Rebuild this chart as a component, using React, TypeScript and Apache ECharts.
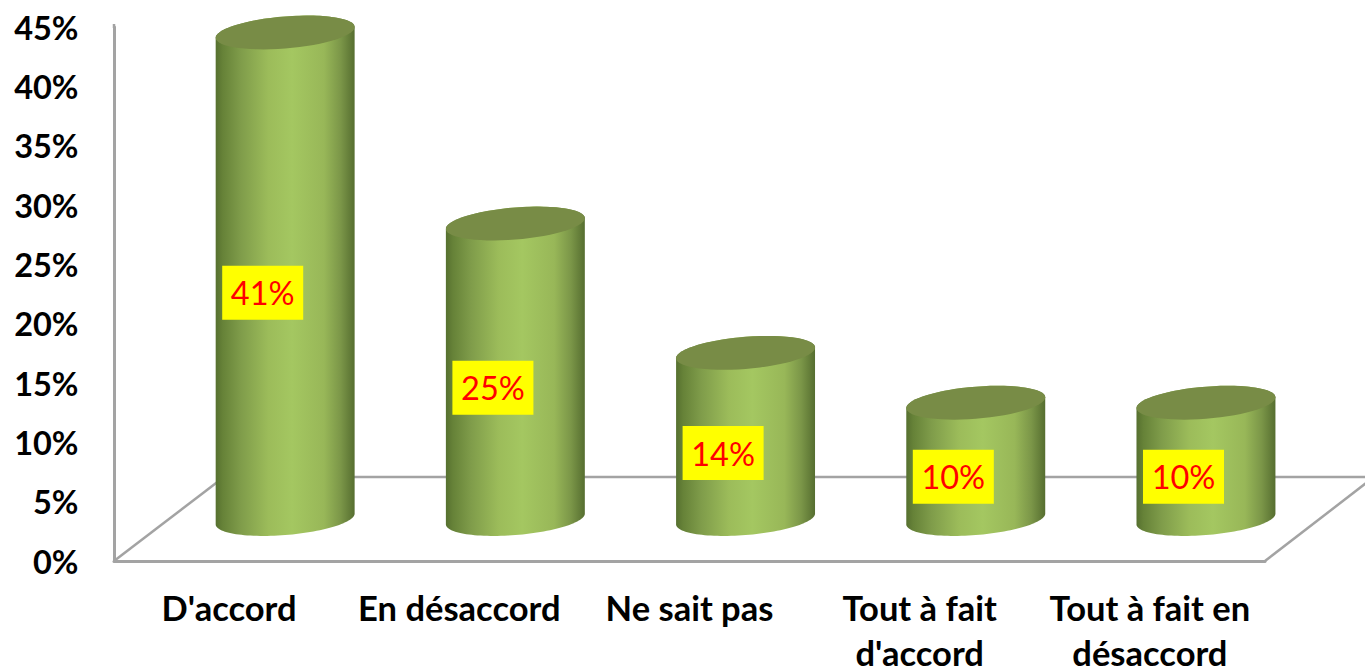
import React, { useEffect, useRef } from "react";
import * as echarts from "echarts";

const categories = ["D'accord", "En désaccord", "Ne sait pas", "Tout à fait\nd'accord", "Tout à fait en\ndésaccord"];
const barValues = [41, 24.9, 14, 9.8, 9.8];
const labelValues = [41, 25, 14, 10, 10];
const yTicks = { min: 0, max: 45, interval: 5 };

const W = 1365;
const H = 669;
const AXIS = "#a3a3a3";
const FONT = "Lato";

const RX = 69.7;
const RY = 16;
const TILT = (-4.7 * Math.PI) / 180;
const T0 = Math.atan(-(RY / RX) * Math.tan(TILT));

function arcPoints(cx: number, cy: number, from: number, to: number) {
  const n = 60;
  const pts: string[] = [];
  for (let k = 0; k <= n; k++) {
    const t = from + ((to - from) * k) / n;
    const x = cx + RX * Math.cos(t) * Math.cos(TILT) - RY * Math.sin(t) * Math.sin(TILT);
    const y = cy + RX * Math.cos(t) * Math.sin(TILT) + RY * Math.sin(t) * Math.cos(TILT);
    pts.push(`${x.toFixed(2)} ${y.toFixed(2)}`);
  }
  return pts;
}

function renderCylinder(_p: any, api: any) {
  const i = api.value(0);
  const v = api.value(1);
  const band = api.size([1, 0])[0];
  const unit = api.size([0, 1])[1];
  const depthLift = 3.54 * unit;
  const cx = api.coord([i, 0])[0] + 0.2435 * band;
  const baseY = api.coord([0, 0])[1] - depthLift;
  const topY = baseY - v * unit;
  const bottomArc = arcPoints(cx, baseY, T0 + Math.PI, T0);
  const topBack = arcPoints(cx, topY, T0, T0 - Math.PI);
  const body = "M " + [...bottomArc, ...topBack].join(" L ") + " Z";
  const top = "M " + arcPoints(cx, topY, T0, T0 + 2 * Math.PI).join(" L ") + " Z";
  return {
    type: "group",
    children: [
      {
        type: "path",
        shape: { pathData: body },
        style: {
          fill: new echarts.graphic.LinearGradient(0, 0, 1, 0, [
            { offset: 0, color: "#56702f" },
            { offset: 0.05, color: "#668238" },
            { offset: 0.18, color: "#7f9c4a" },
            { offset: 0.38, color: "#9cbc5a" },
            { offset: 0.55, color: "#a4c761" },
            { offset: 0.78, color: "#98b758" },
            { offset: 0.9, color: "#7b9648" },
            { offset: 1, color: "#566e30" },
          ]),
        },
      },
      {
        type: "path",
        shape: { pathData: top },
        style: { fill: "#788c46" },
      },
    ],
  };
}

function renderLabel(_p: any, api: any) {
  const i = api.value(0);
  const v = api.value(1);
  const band = api.size([1, 0])[0];
  const [x, y] = api.coord([i, v / 2 + 2.1]);
  const cx = x + 0.146 * band;
  return {
    type: "group",
    z2: 10,
    children: [
      { type: "rect", shape: { x: cx - 40.5, y: y - 27, width: 81, height: 54 }, style: { fill: "#ffff00" } },
      {
        type: "text",
        style: {
          text: `${v}%`,
          x: cx,
          y,
          align: "center",
          verticalAlign: "middle",
          fill: "#ff0000",
          font: `400 32.5px ${FONT}`,
        },
      },
    ],
  };
}

export default function App() {
  const ref = useRef<HTMLDivElement>(null);
  useEffect(() => {
    document.body.style.margin = "0";
    document.body.style.overflow = "hidden";
    const chart = echarts.init(ref.current!, undefined, { renderer: "svg" });
    const line = (x1: number, y1: number, x2: number, y2: number, lineWidth = 2.5) => ({
      type: "line",
      silent: true,
      z: 0,
      shape: { x1, y1, x2, y2 },
      style: { stroke: AXIS, lineWidth },
    });
    chart.setOption({
      animation: false,
      backgroundColor: "#ffffff",
      graphic: {
        elements: [
          line(114, 24, 114, 28),
          line(114, 561, 224, 477),
          line(224, 477, 1365, 477),
          line(1265, 561, 1374, 477),
        ],
      },
      grid: { left: 114, right: W - 1265, top: 27, bottom: H - 561, containLabel: false, outerBoundsMode: "none" },
      xAxis: {
        type: "category",
        data: categories,
        axisLine: { show: true, lineStyle: { color: AXIS, width: 3 } },
        axisTick: { show: false },
        axisLabel: {
          interval: 0,
          hideOverlap: false,
          margin: 24,
          color: "#000000",
          fontFamily: FONT,
          fontWeight: 700,
          fontSize: 34.5,
          lineHeight: 45,
        },
      },
      yAxis: {
        type: "value",
        ...yTicks,
        splitLine: { show: false },
        axisLine: { show: true, lineStyle: { color: AXIS, width: 3 } },
        axisTick: { show: false },
        axisLabel: {
          margin: 35.5,
          color: "#000000",
          fontFamily: FONT,
          fontWeight: 700,
          fontSize: 32.5,
          formatter: "{value}%",
        },
      },
      series: [
        {
          type: "custom",
          renderItem: renderCylinder,
          data: barValues.map((v, i) => [i, v]),
          encode: { x: 0, y: 1 },
          clip: false,
          z: 3,
        },
        {
          type: "custom",
          renderItem: renderLabel,
          data: labelValues.map((v, i) => [i, v]),
          encode: { x: 0, y: 1 },
          clip: false,
          z: 4,
        },
      ],
    });
    return () => chart.dispose();
  }, []);
  return <div ref={ref} style={{ width: W, height: H }} />;
}
